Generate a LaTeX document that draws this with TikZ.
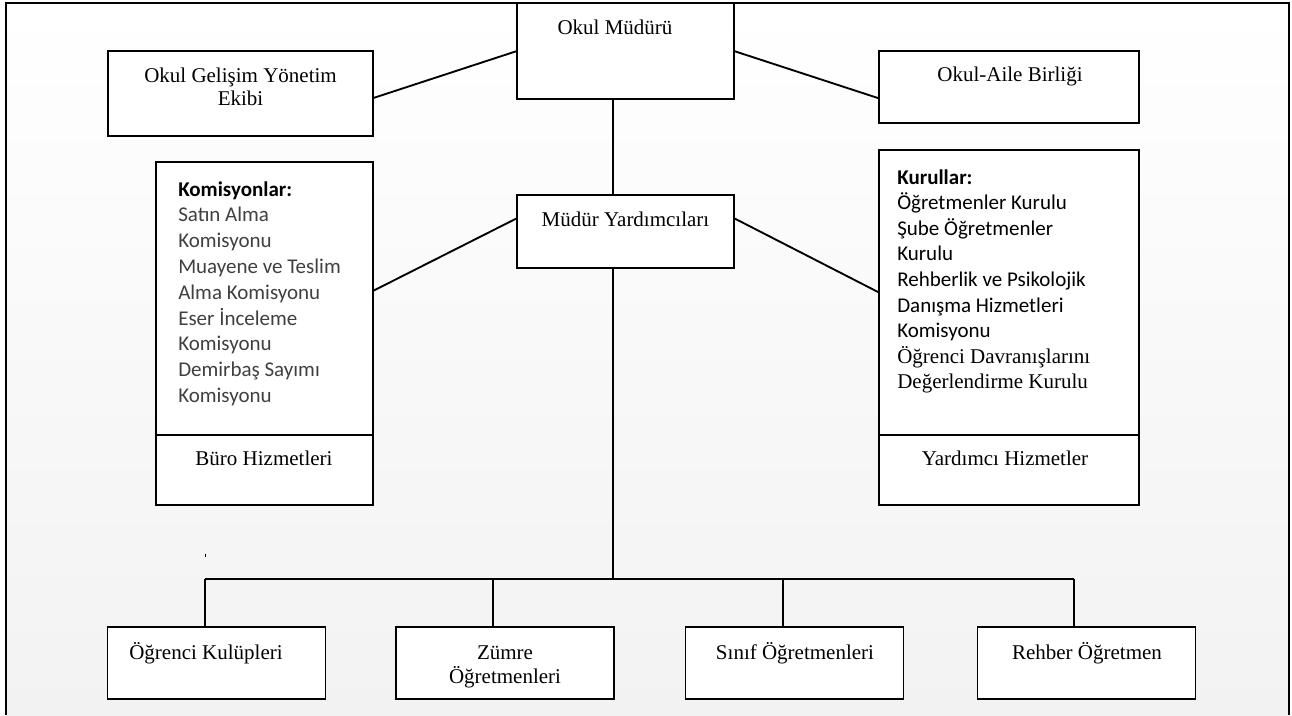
\documentclass[tikz,border=0pt]{standalone}
\usepackage{fontspec}
\setmainfont{Liberation Serif}
\newfontfamily\carlito{Carlito}
\usepackage{tikz}
\definecolor{bggray}{HTML}{F2F2F2}
\definecolor{komgray}{HTML}{404040}

\begin{document}
\begin{tikzpicture}[x=0.75pt,y=0.75pt,yscale=-1,xscale=1,
  box/.style={draw, line width=1.4pt, fill=white, inner sep=0pt, outer sep=0pt},
  link/.style={line width=1.4pt},
  lbl/.style={inner sep=0pt, anchor=base, font=\fontsize{15.75}{17.5}\selectfont},
  lbltwo/.style={inner sep=0pt, align=center, font=\fontsize{15.75}{17.5}\selectfont},
  itm/.style={inner sep=0pt, anchor=base west, font=\carlito\fontsize{15.75}{19.3}\selectfont},
  itmserif/.style={inner sep=0pt, anchor=base west, font=\fontsize{15.75}{19.3}\selectfont}]
\useasboundingbox (0,0) rectangle (1292,715);

%Background
\shade [top color=white, bottom color=bggray] (6,3) rectangle (1289,715);

%Shape: Rectangle
\node [box, minimum width=162.75pt, minimum height=72pt] (mudur) at (625.5,51) {};
%Shape: Rectangle
\node [box, minimum width=198.75pt, minimum height=63.75pt] (ogye) at (240.5,93.5) {};
%Shape: Rectangle
\node [box, minimum width=195pt, minimum height=54pt] (oab) at (1009,87) {};
%Shape: Rectangle
\node [box, minimum width=162.75pt, minimum height=54.75pt] (my) at (625.5,231.5) {};
%Shape: Rectangle
\node [box, minimum width=162.75pt, minimum height=204.75pt] (kom) at (264.5,298.5) {};
\node [box, minimum width=162.75pt, minimum height=52.5pt] (buro) at (264.5,470) {};
%Shape: Rectangle
\node [box, minimum width=195pt, minimum height=213.75pt] (kur) at (1009,292.5) {};
\node [box, minimum width=195pt, minimum height=52.5pt] (yrd) at (1009,470) {};
%Shape: Rectangle
\node [box, minimum width=163.5pt, minimum height=54pt] (ogk) at (216.5,663) {};
\node [box, minimum width=163.5pt, minimum height=54pt] (zumre) at (505,663) {};
\node [box, minimum width=163.5pt, minimum height=54pt] (sinif) at (794.5,663) {};
\node [box, minimum width=163.5pt, minimum height=54pt] (rehber) at (1086.5,663) {};

%Frame
\draw [line width=1.6pt] (6,715) -- (6,3) -- (1289,3) -- (1289,715);

%Junctions
\coordinate (trunk) at (613,579);
\coordinate (j1) at (205,579);
\coordinate (j2) at (493,579);
\coordinate (j3) at (783,579);
\coordinate (j4) at (1074,579);

%Straight Lines
\draw [link] (mudur.west) -- (ogye.358);
\draw [link] (mudur.east) -- (oab.185);
\draw [link] (mudur.south -| trunk) -- (my.north -| trunk);
\draw [link] (my.173) -- (kom.4);
\draw [link] (my.7) -- (kur.west);
\draw [link] (my.south -| trunk) -- (trunk);
\draw [link] (j1) -- (j4);
\draw [link] (j1) -- (j1 |- ogk.north);
\draw [link] (j2) -- (j2 |- zumre.north);
\draw [link] (j3) -- (j3 |- sinif.north);
\draw [link] (j4) -- (j4 |- rehber.north);
%Straight Lines
\draw [line width=0.75pt] (205,553.5) -- (205,556.5);

% Text Node
\draw (615,34) node [lbl] (mudurtxt) {Okul Müdürü};
% Text Node
\draw (240.5,87) node [lbltwo] (ogyetxt) {Okul Gelişim Yönetim\\Ekibi};
% Text Node
\draw (1010,81) node [lbl] (oabtxt) {Okul-Aile Birliği};
% Text Node
\draw (625.5,226) node [lbl] (mytxt) {Müdür Yardımcıları};
% Text Node
\draw (264,465) node [lbl] (burotxt) {Büro Hizmetleri};
% Text Node
\draw (1005,465) node [lbl] (yrdtxt) {Yardımcı Hizmetler};
% Text Node
\draw (206,659) node [lbl] (ogktxt) {Öğrenci Kulüpleri};
% Text Node
\draw (505,667) node [lbltwo] (zumretxt) {Zümre\\Öğretmenleri};
% Text Node
\draw (795,659) node [lbl] (siniftxt) {Sınıf Öğretmenleri};
% Text Node
\draw (1087,659) node [lbl] (rehbertxt) {Rehber Öğretmen};

% Komisyonlar
\draw (178,196) node [itm] (komhead) {\bfseries Komisyonlar:};
\foreach \t [count=\i] in {Satın Alma, Komisyonu, Muayene ve Teslim, Alma Komisyonu,
    Eser İnceleme, Komisyonu, Demirbaş Sayımı, Komisyonu}
  \draw (178,196+25.8*\i) node [itm, text=komgray] (kom\i) {\t};

% Kurullar
\draw (897,184) node [itm] (kurhead) {\bfseries Kurullar:};
\foreach \t [count=\i] in {Öğretmenler Kurulu, Şube Öğretmenler, Kurulu,
    Rehberlik ve Psikolojik, Danışma Hizmetleri, Komisyonu}
  \draw (897,184+25.6*\i) node [itm] (kur\i) {\t};
\draw (897,363.2) node [itmserif] (kur7) {Öğrenci Davranışlarını};
\draw (897,388.8) node [itmserif] (kur8) {Değerlendirme Kurulu};

\end{tikzpicture}
\end{document}
